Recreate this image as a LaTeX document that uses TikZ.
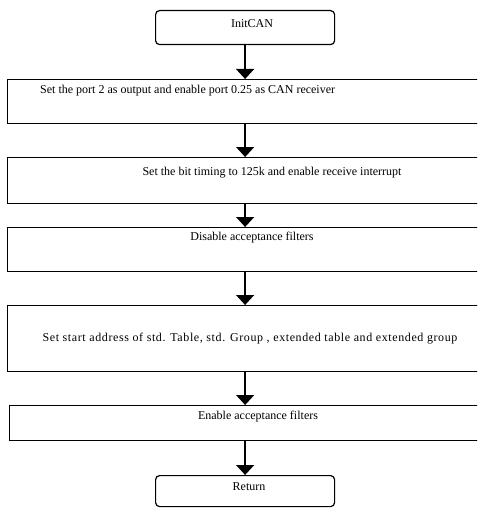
\documentclass[tikz,border=0pt]{standalone}
\usepackage{fontspec}
\setmainfont{Liberation Serif}
\usetikzlibrary{arrows.meta}
\begin{document}
\begin{tikzpicture}[x=1pt,y=-1pt,
  box/.style={draw, line width=1.2pt, rectangle, inner sep=0pt, anchor=north west},
  term/.style={box, rounded corners=4pt, minimum width=179pt},
  proc/.style={box, minimum width=500pt},
  lbl/.style={font=\fontsize{12}{14}\selectfont, inner sep=0pt},
  flow/.style={line width=1.4pt, -{Triangle[width=18pt,length=10pt]}}]
\useasboundingbox (0,0) rectangle (477,508);
\clip (0,0) rectangle (477,508);
% terminals
\node[term, minimum height=34pt] (start) at (155,10) {};
\node[term, minimum height=31pt] (ret) at (155,475) {};
% process steps (they run past the right edge)
\node[proc, minimum height=44pt] (b1) at (7,79) {};
\node[proc, minimum height=46pt] (b2) at (7,157) {};
\node[proc, minimum height=44pt] (b3) at (7,227) {};
\node[proc, minimum height=66pt] (b4) at (7,305) {};
\node[proc, minimum height=35pt] (b5) at (9,405) {};
% labels
\node[lbl] (ts) at (252,24) {InitCAN};
\node[lbl, anchor=west] (t1) at (40,91) {Set the port 2 as output and enable port 0.25 as CAN receiver};
\node[lbl] (t2) at (272,173) {Set the bit timing to 125k and enable receive interrupt};
\node[lbl] (t3) at (252,238) {Disable acceptance filters};
\node[lbl, font=\fontsize{12}{14}\selectfont\addfontfeatures{LetterSpace=5}] (t4) at (250,339) {Set start address of std. Table, std. Group , extended table and extended group};
\node[lbl] (t5) at (258,417) {Enable acceptance filters};
\node[lbl] (tr) at (249,487) {Return};
% connectors
\draw[flow] (start.south) -- (start.south |- b1.north);
\draw[flow] (start.south |- b1.south) -- (start.south |- b2.north);
\draw[flow] (start.south |- b2.south) -- (start.south |- b3.north);
\draw[flow] (start.south |- b3.south) -- (start.south |- b4.north);
\draw[flow] (start.south |- b4.south) -- (start.south |- b5.north);
\draw[flow] (start.south |- b5.south) -- (ret.north);
\end{tikzpicture}
\end{document}
